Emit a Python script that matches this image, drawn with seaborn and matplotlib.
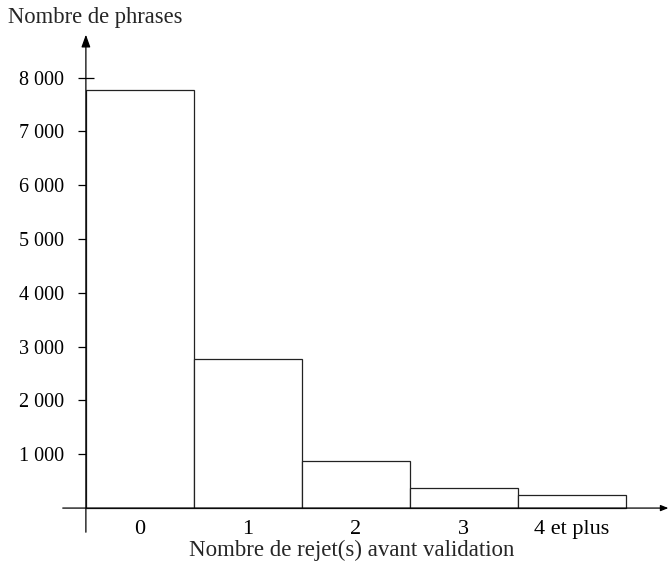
import matplotlib
matplotlib.use('Agg')
import matplotlib.pyplot as plt
import seaborn as sns

categories = ['0', '1', '2', '3', '4 et plus']
counts = [7770, 2770, 875, 372, 245]
yticks = [1000, 2000, 3000, 4000, 5000, 6000, 7000, 8000]
ytick_labels = ['1 000', '2 000', '3 000', '4 000', '5 000', '6 000', '7 000', '8 000']

sns.set_style('white')
plt.rcParams['font.family'] = ['Liberation Serif', 'DejaVu Serif']
plt.rcParams['font.size'] = 15

fig = plt.figure(figsize=(6.71, 5.75), dpi=100)
ax = fig.add_axes([0.128, 0.0696, 0.869, 0.875])

sns.barplot(x=categories, y=counts, width=1, color='white',
            edgecolor='#222222', linewidth=0.9, ax=ax)

ax.set_xlim(-0.5, 4.9)
ax.set_ylim(-500, 8850)
for s in ax.spines.values():
  s.set_visible(False)

# axes with arrows
ax.annotate('', xy=(-0.5, 8850), xytext=(-0.5, -500),
            arrowprops=dict(arrowstyle='-|>,head_length=0.5,head_width=0.18', lw=0.9, color='black'),
            annotation_clip=False)
ax.annotate('', xy=(4.92, 0), xytext=(-0.74, 0),
            arrowprops=dict(arrowstyle='-|>,head_length=0.3,head_width=0.12', lw=0.9, color='black'),
            annotation_clip=False)

ax.set_yticks(yticks)
ax.set_yticklabels(ytick_labels, fontsize=14.5)
ax.tick_params(axis='y', direction='inout', length=11, width=0.9, pad=10, left=True, colors='black')
ax.tick_params(axis='x', length=0, pad=-10.5, labelsize=16, colors='black')
ax.set_xlabel('')
ax.set_ylabel('')

fig.text(0.012, 0.97, 'Nombre de phrases', ha='left', va='center', fontsize=16.3)
fig.text(0.524, 0.043, 'Nombre de rejet(s) avant validation', ha='center', va='center', fontsize=16.5)

fig.savefig('out.png', dpi=100, facecolor='white')
